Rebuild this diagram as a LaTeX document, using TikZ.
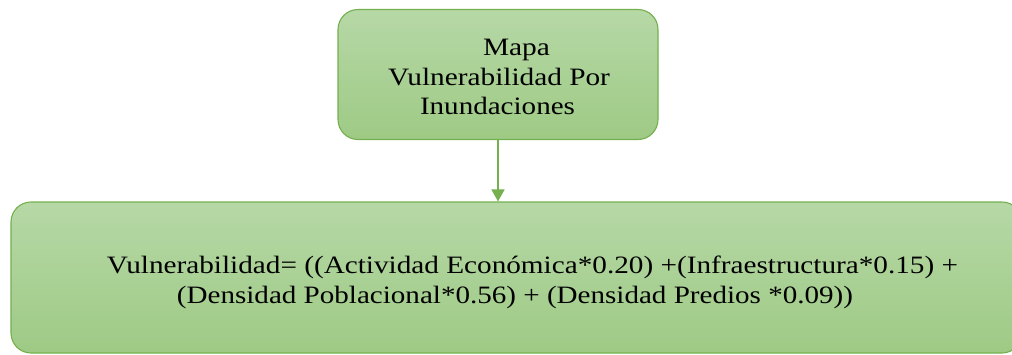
\documentclass[tikz,border=0pt]{standalone}
\usepackage{fontspec}
\setmainfont{Liberation Serif}
\usetikzlibrary{arrows.meta}
\definecolor{boxline}{RGB}{116,176,78}
\definecolor{boxtop}{RGB}{182,216,166}
\definecolor{boxbot}{RGB}{158,202,133}
\newcommand\wtext[2]{\resizebox{#1pt}{\height}{#2}}
\tikzset{
  greenbox/.style={draw=boxline, line width=1.1pt, rounded corners=20pt,
    top color=boxtop, bottom color=boxbot, inner sep=0pt},
  lbl/.style={anchor=base, inner sep=0pt, font=\fontsize{25}{30}\selectfont},
  link/.style={draw=boxline, line width=1.5pt, -{Triangle[length=12pt,width=13pt]}}
}
\begin{document}
\begin{tikzpicture}[x=1pt,y=-1pt]
\useasboundingbox (0,0) rectangle (1012,354);
\clip (0,0) rectangle (1012,354);
\fill[white] (0,0) rectangle (1012,354);
\node[greenbox, minimum width=320pt, minimum height=130pt] (top) at (498,74.5) {};
\node[greenbox, minimum width=1011pt, minimum height=151pt] (bottom) at (516.5,277.5) {};
\node[lbl] (t1) at (516.5,55) {\wtext{67}{Mapa}};
\node[lbl] (t2) at (499,85) {\wtext{222}{Vulnerabilidad Por}};
\node[lbl] (t3) at (497.5,114) {\wtext{155}{Inundaciones}};
\node[lbl] (b1) at (532.5,273) {\wtext{851}{Vulnerabilidad= ((Actividad Económica*0.20) +(Infraestructura*0.15) +}};
\node[lbl] (b2) at (515,303) {\wtext{676}{(Densidad Poblacional*0.56) + (Densidad Predios *0.09))}};
\draw[link] (top.south) -- (top.south |- bottom.north);
\end{tikzpicture}
\end{document}
